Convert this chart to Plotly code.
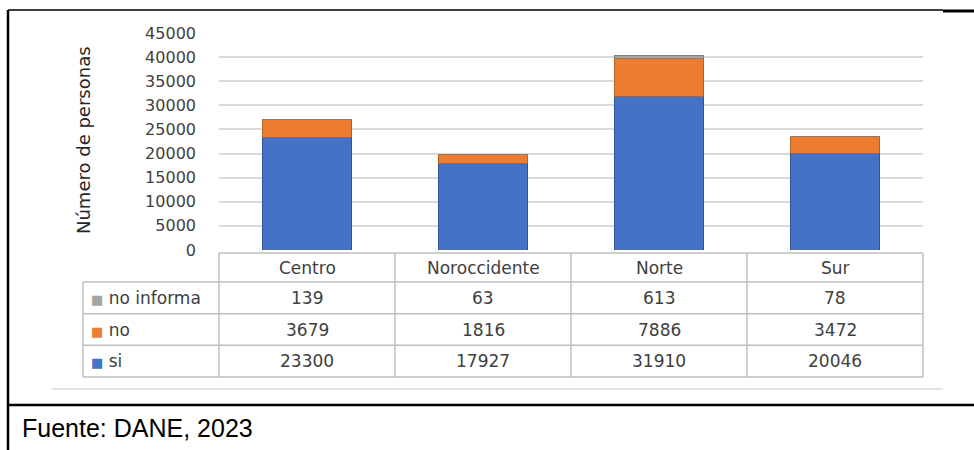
import plotly.graph_objects as go

# data
regiones = ["Centro", "Noroccidente", "Norte", "Sur"]
si = [23300, 17927, 31910, 20046]
no = [3679, 1816, 7886, 3472]
no_informa = [139, 63, 613, 78]

series = [
    ("si", si, "#4472C4", "#2F528F"),
    ("no", no, "#ED7D31", "#B85F1F"),
    ("no informa", no_informa, "#A5A5A5", "#7F7F7F"),
]
table_rows = ["no informa", "no", "si"]

W, H = 974, 450
L, R, T, B = 219, 923, 33, 250  # plot area in pixels


def px_x(p):
    return (p - L) / (R - L)


def px_y(p):
    return (B - p) / (B - T)


fig = go.Figure()
for name, vals, color, edge in series:
    fig.add_trace(go.Bar(
        x=regiones, y=vals, name=name,
        marker=dict(color=color, line=dict(color=edge, width=1)),
        width=0.51, showlegend=False, hoverinfo="x+y+name",
    ))

font_main = "DejaVu Sans, sans-serif"
txt_col = "#404040"
grey_line = "#BFBFBF"
shapes = []
annotations = []

# data table below the bars
col_w = (R - L) / len(regiones)
row_edges = [253, 282, 313.7, 345.3, 377]
lab_left = 83


def hline(y, x0, x1, color=grey_line, width=1.5):
    shapes.append(dict(type="line", xref="paper", yref="paper",
                       x0=px_x(x0), x1=px_x(x1), y0=px_y(y), y1=px_y(y),
                       line=dict(color=color, width=width)))


def vline(x, y0, y1, color=grey_line, width=1.5):
    shapes.append(dict(type="line", xref="paper", yref="paper",
                       x0=px_x(x), x1=px_x(x), y0=px_y(y0), y1=px_y(y1),
                       line=dict(color=color, width=width)))


def label(x, y, text, size, color=txt_col, xanchor="center", family=font_main, angle=0):
    annotations.append(dict(
        x=px_x(x), y=px_y(y), xref="paper", yref="paper", text=text,
        xanchor=xanchor, yanchor="middle", showarrow=False, textangle=angle,
        font=dict(family=family, size=size, color=color)))


hline(row_edges[0], L, R)
for y in row_edges[1:]:
    hline(y, lab_left, R)
for k in range(len(regiones) + 1):
    vline(L + k * col_w, row_edges[0], row_edges[-1])
vline(lab_left, row_edges[1], row_edges[-1])

for k, reg in enumerate(regiones):
    label(L + (k + 0.5) * col_w, (row_edges[0] + row_edges[1]) / 2, reg, 17)

lookup = {name: (vals, color) for name, vals, color, _ in series}
for r, name in enumerate(table_rows):
    vals, color = lookup[name]
    yc = (row_edges[r + 1] + row_edges[r + 2]) / 2
    label(lab_left + 6, yc,
          f"<span style='color:{color};font-size:13px'>■</span> {name}", 17, xanchor="left")
    for k, v in enumerate(vals):
        label(L + (k + 0.5) * col_w, yc, str(v), 17)

# y axis title
label(83, 140, "Número de personas", 18, color="#262626", angle=-90)

# chart area border (bottom) and document frame
hline(389, 52, 943, color="#D9D9D9", width=1.5)
hline(10, 8, 943, color="#000000", width=1.5)
hline(11, 943, 974, color="#000000", width=3)
hline(405, 8, 974, color="#000000", width=2.5)
vline(8, 10, 450, color="#000000", width=2.5)

label(20, 428, "Fuente: DANE, 2023", 25, color="#000000", xanchor="left",
      family="Liberation Sans, Arial, sans-serif")

fig.update_layout(
    width=W, height=H, barmode="stack",
    margin=dict(l=L, r=W - R, t=T, b=H - B, pad=0),
    paper_bgcolor="white", plot_bgcolor="white",
    shapes=shapes, annotations=annotations,
    xaxis=dict(range=[-0.5, 3.5], showticklabels=False, showgrid=False,
               zeroline=False, showline=False, ticks=""),
    yaxis=dict(range=[0, 45000], dtick=5000, tickformat="d", showgrid=True,
               gridcolor="#D9D9D9", gridwidth=1.5, zeroline=False, showline=False,
               tickfont=dict(family=font_main, size=16, color=txt_col),
               ticklabelstandoff=22),
)

fig.write_html("out.html", config={"displayModeBar": False},
               post_script="document.body.style.margin='0';")
